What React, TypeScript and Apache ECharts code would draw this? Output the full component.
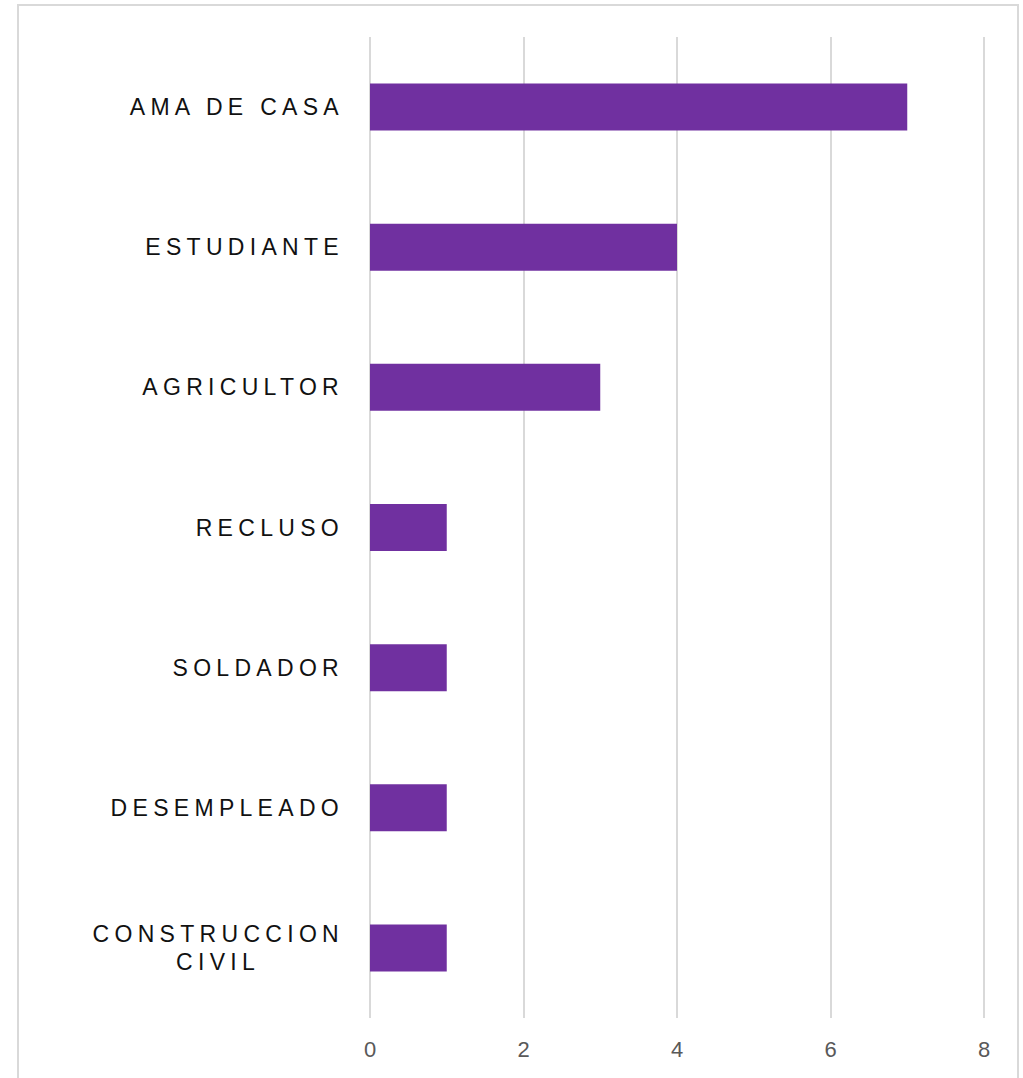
import React, { useEffect, useRef } from "react";
import * as echarts from "echarts";

const categories = [
  "AMA DE CASA",
  "ESTUDIANTE",
  "AGRICULTOR",
  "RECLUSO",
  "SOLDADOR",
  "DESEMPLEADO",
  "CONSTRUCCION CIVIL",
];
const values = [7, 4, 3, 1, 1, 1, 1];
const xTicks = { min: 0, max: 8, interval: 2 };

const CAT_COLOR = "#111111";
const FONT = "Liberation Sans, Arial, sans-serif";

export default function App() {
  const ref = useRef<HTMLDivElement>(null);
  useEffect(() => {
    if (!ref.current) return;
    const chart = echarts.init(ref.current, null, { renderer: "svg" });
    chart.setOption({
      animation: false,
      backgroundColor: "#ffffff",
      graphic: [
        {
          type: "rect",
          shape: { x: 18, y: 5, width: 1000, height: 1100 },
          style: { fill: "none", stroke: "#d9d9d9", lineWidth: 2 },
          silent: true,
          z: 100,
        },
      ],
      grid: { left: 370, right: 39, top: 37, bottom: 60 },
      xAxis: {
        type: "value",
        min: xTicks.min,
        max: xTicks.max,
        interval: xTicks.interval,
        axisLine: { show: false },
        axisTick: { show: false },
        splitLine: { show: true, lineStyle: { color: "#d9d9d9", width: 2 } },
        axisLabel: {
          color: "#595959",
          fontSize: 22,
          fontFamily: FONT,
          margin: 20,
        },
      },
      yAxis: {
        type: "category",
        inverse: true,
        data: categories,
        axisLine: { show: false },
        axisTick: { show: false },
        axisLabel: {
          color: CAT_COLOR,
          fontSize: 23,
          fontFamily: FONT,
          margin: 26,
          lineHeight: 28,
          formatter: (v: string) => {
            if (v === "CONSTRUCCION CIVIL") {
              return "{r|CONSTRUCCION}\n{c|CIVIL}";
            }
            return v;
          },
          rich: {
            r: {
              align: "right",
              color: CAT_COLOR,
              fontSize: 23,
              fontFamily: FONT,
              lineHeight: 28,
            },
            c: {
              align: "center",
              color: CAT_COLOR,
              fontSize: 23,
              fontFamily: FONT,
              lineHeight: 28,
              padding: [0, 64, 0, 0],
            },
          },
        },
      },
      series: [
        {
          type: "bar",
          data: values,
          barWidth: 47,
          itemStyle: { color: "#7030a0" },
        },
      ],
    });
    return () => chart.dispose();
  }, []);
  return (
    <>
      <style>{`#chart-root text[fill="${CAT_COLOR}"] { letter-spacing: 5.3px; }`}</style>
      <div
        id="chart-root"
        ref={ref}
        style={{ position: "absolute", left: 0, top: 0, width: 1023, height: 1078 }}
      />
    </>
  );
}
